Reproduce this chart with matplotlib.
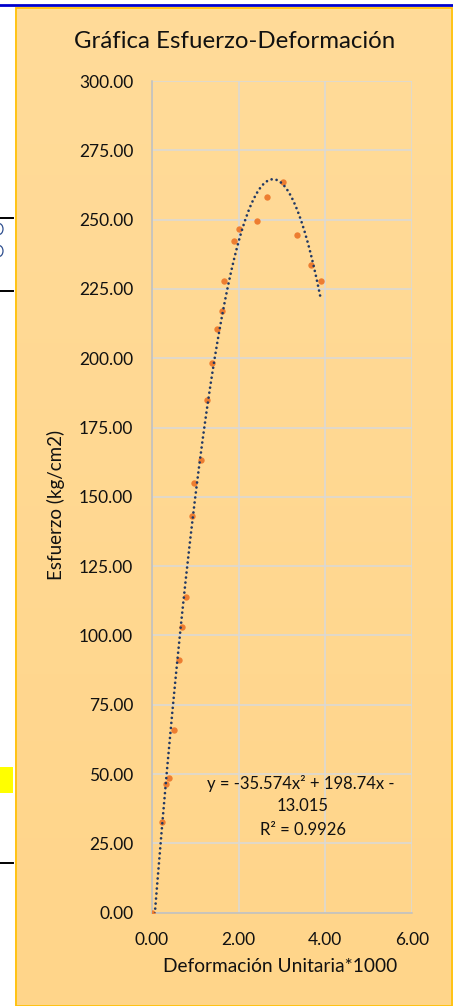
import numpy as np
import matplotlib
matplotlib.use("Agg")
import matplotlib.pyplot as plt
from matplotlib.patches import Rectangle, Ellipse
from matplotlib.lines import Line2D

# datos (deformacion unitaria *1000, esfuerzo kg/cm2)
deformacion = [0.00, 0.24, 0.32, 0.39, 0.51, 0.62, 0.70, 0.78, 0.93, 0.97, 1.12, 1.28,
               1.39, 1.51, 1.62, 1.66, 1.89, 2.01, 2.43, 2.66, 3.02, 3.35, 3.66, 3.89]
esfuerzo = [0.0, 32.7, 46.4, 48.7, 65.9, 91.0, 103.1, 114.0, 143.1, 155.1, 163.2, 185.0,
            198.2, 210.7, 217.0, 227.9, 242.3, 246.7, 249.6, 258.3, 263.5, 244.6, 233.7, 227.9]

# linea de tendencia polinomica (grado 2) mostrada en la grafica
coef_tendencia = [-35.574, 198.74, -13.015]
r2 = 0.9926

x_ticks = [0, 2, 4, 6]
y_ticks = list(range(0, 301, 25))

plt.rcParams['font.family'] = ['Lato', 'DejaVu Sans']

W, H = 453, 1006
fig = plt.figure(figsize=(W / 100, H / 100), dpi=100)
fig.patch.set_facecolor('white')

def fx(px):
    return px / W

def fy(py):
    return 1 - py / H

# fondo del area del grafico (degradado suave)
bg = fig.add_axes([fx(15), 0, 1 - fx(15), fy(7)], zorder=-5)
grad = np.linspace(0, 1, 256).reshape(-1, 1)
top_c = np.array([255, 219, 153]) / 255
bot_c = np.array([255, 213, 138]) / 255
img = top_c * (1 - grad[..., None]) + bot_c * grad[..., None]
bg.imshow(img, aspect='auto', extent=[0, 1, 0, 1])
bg.set_axis_off()

fig.patches.append(Rectangle((fx(15.5), fy(1006)), 1 - fx(15.5) - fx(1.5), fy(7.5) - fy(1006),
                             transform=fig.transFigure, fill=False, edgecolor='#FFC000',
                             linewidth=1.2, zorder=-4))
# linea azul superior y restos de la hoja a la izquierda
fig.lines.append(Line2D([0, 1], [fy(4.6), fy(4.6)], transform=fig.transFigure,
                        color='#0000CC', linewidth=2.0))
for yy in [218, 291, 863]:
    fig.lines.append(Line2D([0, fx(13)], [fy(yy), fy(yy)], transform=fig.transFigure,
                            color='black', linewidth=1.4))
fig.patches.append(Rectangle((0, fy(793)), fx(13), fy(767) - fy(793), transform=fig.transFigure,
                             facecolor='#FFFF00', edgecolor='none'))
for yy in [229, 251]:
    fig.patches.append(Ellipse((fx(-1), fy(yy)), fx(8), 11 / H, transform=fig.transFigure,
                               fill=False, edgecolor='#2F4F8F', linewidth=0.9))

ax = fig.add_axes([fx(152), fy(912.7), fx(412) - fx(152), fy(81) - fy(912.7)])
ax.set_facecolor('none')

xs = np.linspace(0, max(deformacion), 300)
ax.scatter(deformacion, esfuerzo, s=21, color='#ED7D31', zorder=3, linewidths=0)
ax.plot(xs, np.polyval(coef_tendencia, xs), color='#203864', linewidth=1.95,
        linestyle=(0, (0.01, 1.85)), dash_capstyle='round', zorder=4)

ax.set_xlim(0, 6)
ax.set_ylim(0, 300)
ax.set_xticks(x_ticks)
ax.set_yticks(y_ticks)
ax.set_xticklabels(['%.2f' % v for v in x_ticks])
ax.set_yticklabels(['%.2f' % v for v in y_ticks])
ax.tick_params(length=0, labelsize=12.5, colors='#111111')
ax.tick_params(axis='y', pad=13.5)
ax.tick_params(axis='x', pad=14)
ax.grid(True, color='#D9D9D9', linewidth=1.1)
ax.set_axisbelow(True)
for s in ['top', 'right']:
    ax.spines[s].set_visible(False)
for s in ['left', 'bottom']:
    ax.spines[s].set_color('#BFBFBF')
    ax.spines[s].set_linewidth(1.1)

fig.text(fx(235), fy(48), 'Gráfica Esfuerzo-Deformación', ha='center', va='baseline',
         fontsize=17.3, color='#111111')
fig.text(fx(280), fy(972), 'Deformación Unitaria*1000', ha='center', va='baseline',
         fontsize=13.8, color='#111111')
fig.text(fx(61.7), fy(505), 'Esfuerzo (kg/cm2)', ha='center', va='baseline', rotation=90,
         rotation_mode='anchor', fontsize=13.5, color='#111111')

a, b, c = coef_tendencia
fig.text(fx(301), fy(789), 'y = %.3fx² + %.2fx -' % (a, b), ha='center', va='baseline',
         fontsize=12, color='#111111')
fig.text(fx(303), fy(811), '%.3f' % abs(c), ha='center', va='baseline',
         fontsize=12, color='#111111')
fig.text(fx(303), fy(835), 'R² = %.4f' % r2, ha='center', va='baseline',
         fontsize=12, color='#111111')

fig.savefig('out.png', dpi=100)
